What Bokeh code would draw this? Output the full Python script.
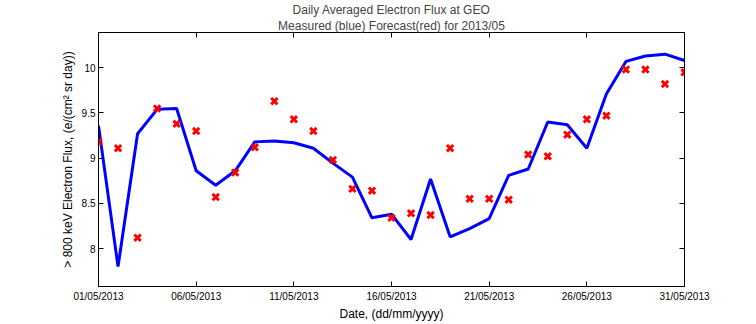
from bokeh.plotting import figure
from bokeh.models import Range1d, LinearAxis, FixedTicker, Title
from bokeh.embed import file_html
from bokeh.resources import INLINE

days = list(range(1, 32))
measured = [9.36, 7.80, 9.27, 9.54, 9.55, 8.86, 8.70, 8.86, 9.18, 9.19,
            9.17, 9.11, 8.945, 8.79, 8.34, 8.38, 8.10, 8.77, 8.13, 8.22,
            8.33, 8.81, 8.88, 9.40, 9.37, 9.11, 9.71, 10.07, 10.13, 10.15,
            10.08]
forecast = [9.18, 9.11, 8.12, 9.55, 9.38, 9.30, 8.57, 8.84, 9.12, 9.63,
            9.43, 9.30, 8.98, 8.66, 8.64, 8.34, 8.39, 8.37, 9.11, 8.55,
            8.55, 8.54, 9.04, 9.02, 9.26, 9.43, 9.47, 9.98, 9.98, 9.82,
            9.95]
x_ticks = [1, 6, 11, 16, 21, 26, 31]
x_tick_labels = ["01/05/2013", "06/05/2013", "11/05/2013", "16/05/2013",
                 "21/05/2013", "26/05/2013", "31/05/2013"]
y_ticks = [8, 8.5, 9, 9.5, 10]
y_tick_labels = ["8", "8.5", "9", "9.5", "10"]

FONT = "Liberation Sans"

p = figure(width=756, height=324, output_backend="svg", toolbar_location=None,
           x_range=Range1d(1, 31), y_range=Range1d(7.58, 10.39),
           x_axis_location=None, y_axis_location=None, title=None,
           min_border_left=98, min_border_right=72, min_border_top=30,
           min_border_bottom=38)
p.background_fill_color = "white"
p.border_fill_color = "white"
p.outline_line_color = "black"
p.outline_line_width = 1
p.xgrid.visible = False
p.ygrid.visible = False


def style_axis(ax, ticks, labels, show_labels):
    ax.ticker = FixedTicker(ticks=ticks)
    ax.major_tick_in = 5
    ax.major_tick_out = 0
    ax.minor_tick_in = 0
    ax.minor_tick_out = 0
    ax.axis_line_color = "black"
    ax.major_tick_line_color = "black"
    ax.major_label_text_font = FONT
    if show_labels:
        ax.major_label_overrides = {t: l for t, l in zip(ticks, labels)}
        ax.major_label_text_font_size = "10px"
        ax.major_label_text_color = "black"
    else:
        ax.major_label_text_font_size = "1px"
        ax.major_label_text_color = None
        ax.major_label_standoff = 0
    ax.axis_label_text_font = FONT
    ax.axis_label_text_font_size = "12px"
    ax.axis_label_text_font_style = "normal"
    ax.axis_label_text_color = "black"


xb = LinearAxis(axis_label="Date, (dd/mm/yyyy)")
style_axis(xb, x_ticks, x_tick_labels, True)
xb.major_label_standoff = 4
xb.axis_label_standoff = 2
p.add_layout(xb, "below")

yl = LinearAxis(axis_label="> 800 keV Electron Flux, (e/(cm\u00b2 sr day))")
style_axis(yl, y_ticks, y_tick_labels, True)
yl.major_label_standoff = 3
yl.axis_label_standoff = 4
p.add_layout(yl, "left")

yr = LinearAxis()
style_axis(yr, y_ticks, y_tick_labels, False)
p.add_layout(yr, "right")

xt = LinearAxis()
style_axis(xt, x_ticks, x_tick_labels, False)
p.add_layout(xt, "above")

p.add_layout(Title(text="Measured (blue) Forecast(red) for 2013/05", align="center",
                   text_font=FONT, text_font_size="12px", text_font_style="normal",
                   text_line_height=1.0, standoff=0), "above")
p.add_layout(Title(text="Daily Averaged Electron Flux at GEO", align="center",
                   text_font=FONT, text_font_size="12px", text_font_style="normal",
                   text_line_height=1.0, standoff=0), "above")

p.line(days, measured, line_color="#0000ff", line_width=3)
p.scatter(days, forecast, marker="x", size=9, line_color="#ff0000", line_width=3)

open("out.html", "w").write(file_html(p, INLINE))
